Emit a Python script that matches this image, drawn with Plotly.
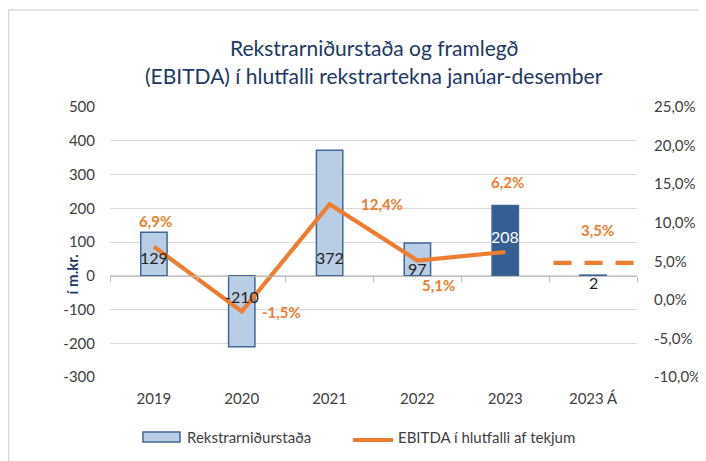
import plotly.graph_objects as go

categories = ["2019", "2020", "2021", "2022", "2023", "2023 Á"]
results = [129, -210, 372, 97, 208, 2]
ebitda = [6.9, -1.5, 12.4, 5.1, 6.2]
ebitda_budget = 3.5
ebitda_budget_line_y = 4.8
left_ticks = [500, 400, 300, 200, 100, 0, -100, -200, -300]
right_ticks = [25, 20, 15, 10, 5, 0, -5, -10]
right_ticktext = ["25,0%", "20,0%", "15,0%", "10,0%", "5,0%", "0,0%", "-5,0%", "-10,0%"]

FONT = "Lato, 'Open Sans', sans-serif"
LIGHT = "#B9CDE5"
EDGE = "#3F6797"
DARK = "#355E92"
ORANGE = "#ED7D31"
NAVY = "#203864"
TXT = "#404040"

xs = list(range(len(categories)))
bar_colors = [LIGHT] * len(categories)
bar_colors[4] = DARK

fig = go.Figure()
fig.add_trace(go.Bar(
    x=xs, y=results, width=0.3, marker=dict(color=bar_colors, line=dict(color=EDGE, width=1.5)),
    name="Rekstrarniðurstaða", yaxis="y", showlegend=False,
))
fig.add_trace(go.Scatter(
    x=xs[:len(ebitda)], y=ebitda, mode="lines", line=dict(color=ORANGE, width=4.2),
    name="EBITDA í hlutfalli af tekjum", yaxis="y2", showlegend=False,
))
fig.add_trace(go.Scatter(
    x=[xs[-1] - 0.45, xs[-1] + 0.5], y=[ebitda_budget_line_y, ebitda_budget_line_y], mode="lines",
    line=dict(color=ORANGE, width=4.2, dash="18px,13px"), yaxis="y2", showlegend=False,
))
# zero-line axis with category boundary ticks
fig.add_trace(go.Scatter(x=[xs[0]], y=[0], xaxis="x2", yaxis="y", mode="markers",
                         marker=dict(opacity=0), showlegend=False, hoverinfo="skip"))

# bar value labels
bar_label_pos = [53, -62, 53, 22, 115, -20]
for i, (v, p) in enumerate(zip(results, bar_label_pos)):
    fig.add_annotation(x=xs[i], y=p, xref="x", yref="y", text=str(v), showarrow=False,
                       font=dict(family=FONT, size=16, color="white" if i == 4 else "#222222"))

# percent labels
pct_vals = ebitda + [ebitda_budget]
pct_pos = [(0.02, 10.2), (1.45, -1.6), (2.6, 12.4), (3.24, 1.9), (4.03, 15.3), (5.05, 9.0)]
for v, (px, py) in zip(pct_vals, pct_pos):
    fig.add_annotation(x=px, y=py, xref="x", yref="y2", text=f"<b>{v:.1f}%</b>".replace(".", ","),
                       showarrow=False, font=dict(family=FONT, size=15, color=ORANGE))

# title
fig.add_annotation(x=0.5, y=1.222, xref="paper", yref="paper", xanchor="center", yanchor="middle",
                   text="Rekstrarniðurstaða og framlegð", showarrow=False,
                   font=dict(family=FONT, size=21, color=NAVY))
fig.add_annotation(x=0.5, y=1.1185, xref="paper", yref="paper", xanchor="center", yanchor="middle",
                   text="(EBITDA) í hlutfalli rekstrartekna janúar-desember", showarrow=False,
                   font=dict(family=FONT, size=21, color=NAVY))

fig.add_annotation(x=-0.093, y=0.38, xref="paper", yref="paper", text="<b>í m.kr.</b>", textangle=-90,
                   showarrow=False, font=dict(family=FONT, size=15, color=NAVY))

# outer border
fig.add_shape(type="rect", xref="paper", yref="paper", x0=-0.1926, x1=1.3, y0=-0.5, y1=1.359,
              line=dict(color="#D9D9D9", width=1.5), fillcolor="rgba(0,0,0,0)", layer="below")

# manual legend
fig.add_shape(type="rect", xref="paper", yref="paper", x0=0.0626, x1=0.1328, y0=-0.2407, y1=-0.2037,
              line=dict(color=EDGE, width=1.5), fillcolor=LIGHT)
fig.add_annotation(x=0.1423, y=-0.222, xref="paper", yref="paper", xanchor="left", yanchor="middle",
                   text="Rekstrarniðurstaða", showarrow=False, font=dict(family=FONT, size=15, color=TXT))
fig.add_shape(type="line", xref="paper", yref="paper", x0=0.4611, x1=0.5370, y0=-0.2333, y1=-0.2333,
              line=dict(color=ORANGE, width=4.2))
fig.add_annotation(x=0.5427, y=-0.222, xref="paper", yref="paper", xanchor="left", yanchor="middle",
                   text="EBITDA í hlutfalli af tekjum", showarrow=False, font=dict(family=FONT, size=15, color=TXT))

boundaries = [i - 0.5 for i in range(len(categories) + 1)]

# page body has an 8px margin: shrink figure so the plot area lands at x 110-637, y 107-377
fig.update_layout(
    width=698, height=453,
    margin=dict(l=102, r=69, t=99, b=84, autoexpand=False),
    paper_bgcolor="white", plot_bgcolor="white",
    font=dict(family=FONT, size=15, color=TXT),
    showlegend=False,
    xaxis=dict(tickmode="array", tickvals=xs, ticktext=categories, range=[-0.5, 5.5],
               showgrid=False, zeroline=False, showline=False, ticks="", ticklabelstandoff=11),
    xaxis2=dict(overlaying="x", anchor="free", position=0.375, range=[-0.5, 5.5], tickmode="array",
                tickvals=boundaries, showticklabels=False, ticks="outside", ticklen=5, tickcolor="#BFBFBF",
                tickwidth=1.3, showline=True, linecolor="#BFBFBF", linewidth=1.3, showgrid=False,
                zeroline=False),
    yaxis=dict(range=[-300, 500], tickvals=left_ticks, ticktext=[str(t) for t in left_ticks],
               showgrid=True, gridcolor="#D9D9D9", gridwidth=1.3, zeroline=False, ticklabelstandoff=14),
    yaxis2=dict(range=[-10, 25], tickvals=right_ticks, ticktext=right_ticktext, overlaying="y", side="right",
                showgrid=False, zeroline=False, ticklabelstandoff=16),
)

fig.write_html("out.html")
